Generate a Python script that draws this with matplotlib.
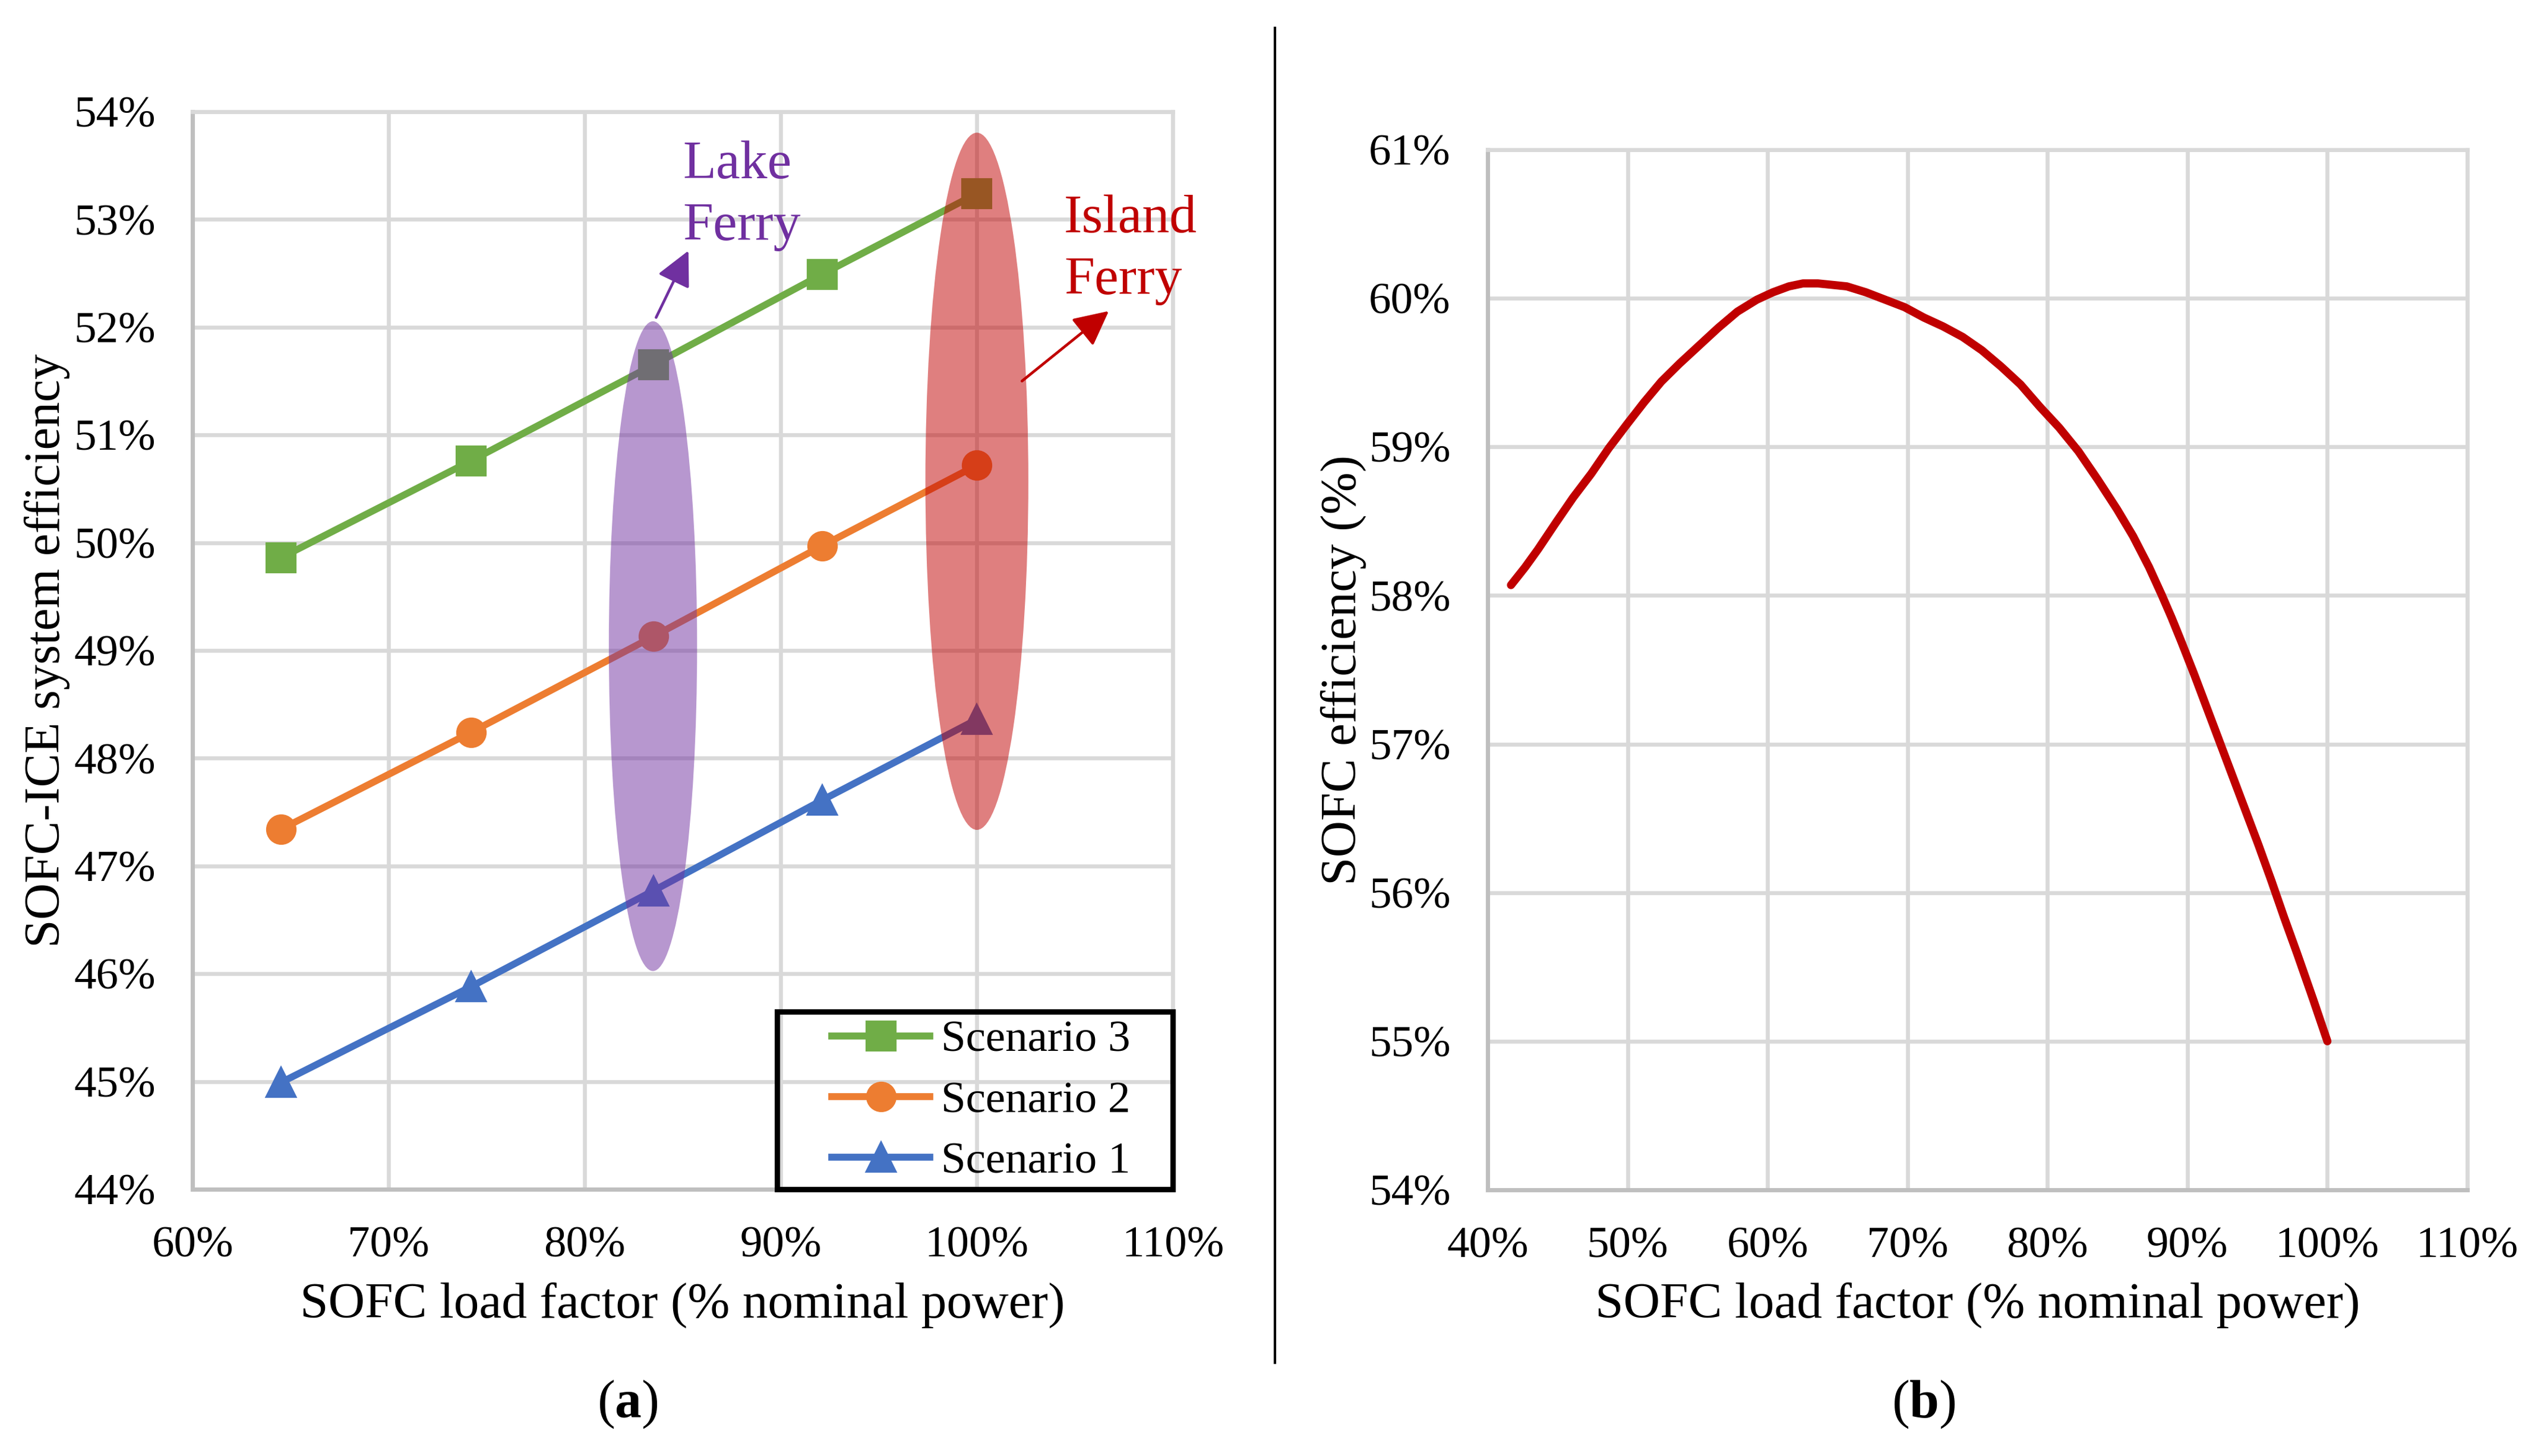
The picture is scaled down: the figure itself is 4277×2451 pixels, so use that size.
import matplotlib
matplotlib.use("Agg")
import matplotlib.pyplot as plt
from matplotlib.patches import Ellipse, Rectangle

plt.rcParams['font.family'] = ['Liberation Serif', 'DejaVu Serif']
plt.rcParams['mathtext.fontset'] = 'custom'
plt.rcParams['mathtext.rm'] = 'Liberation Serif'
plt.rcParams['mathtext.bf'] = 'Liberation Serif:bold'

# ---- data (a): SOFC-ICE system efficiency vs SOFC load factor, in %
load_a = [64.5, 74.2, 83.5, 92.1, 100.0]
scen3 = [49.86, 50.76, 51.65, 52.49, 53.24]
scen2 = [47.34, 48.24, 49.13, 49.97, 50.72]
scen1 = [44.99, 45.88, 46.77, 47.61, 48.36]
xticks_a = [60, 70, 80, 90, 100, 110]
yticks_a = [44, 45, 46, 47, 48, 49, 50, 51, 52, 53, 54]

# ---- data (b): SOFC efficiency curve, in %
load_b = [41.66, 42.67, 43.59, 44.87, 46.11, 47.40, 48.64, 49.93, 51.17, 52.41,
          53.70, 55.08, 56.46, 57.84, 59.22, 60.37, 61.52, 62.53, 63.59, 64.64,
          65.66, 67.03, 68.41, 69.79, 71.17, 72.55, 73.93, 75.31, 76.69, 78.07,
          79.45, 80.83, 82.21, 83.59, 84.97, 86.11, 87.26, 88.18, 88.87, 89.56,
          90.48, 91.40, 92.32, 93.24, 94.16, 95.08, 96.00, 96.92, 97.84, 98.99,
          100.0]
eff_b = [58.07, 58.19, 58.31, 58.49, 58.66, 58.82, 58.99, 59.15, 59.30, 59.44,
         59.56, 59.68, 59.80, 59.91, 59.99, 60.04, 60.08, 60.10, 60.10, 60.09,
         60.08, 60.04, 59.99, 59.94, 59.87, 59.81, 59.74, 59.65, 59.54, 59.42,
         59.27, 59.13, 58.97, 58.78, 58.58, 58.40, 58.19, 58.00, 57.85, 57.69,
         57.47, 57.24, 57.01, 56.78, 56.55, 56.32, 56.08, 55.83, 55.59, 55.28,
         55.00]
xticks_b = [40, 50, 60, 70, 80, 90, 100, 110]
yticks_b = [54, 55, 56, 57, 58, 59, 60, 61]

GREEN, ORANGE, BLUE = '#70AD47', '#ED7D31', '#4472C4'
PURPLE, RED = '#7030A0', '#C00000'
GRID = '#D9D9D9'
TICK_FS = 18
LABEL_FS = 20.5

fig = plt.figure(figsize=(4277 / 300, 2451 / 300), dpi=300)
ax1 = fig.add_axes([0.0758, 0.1832, 0.3858, 0.7401])
ax2 = fig.add_axes([0.5855, 0.1828, 0.3855, 0.7144])


def style_axes(ax, xt, yt):
    ax.set_xlim(xt[0], xt[-1])
    ax.set_ylim(yt[0], yt[-1])
    ax.set_xticks(xt)
    ax.set_yticks(yt)
    ax.set_xticklabels([f"{v}%" for v in xt], fontsize=TICK_FS)
    ax.set_yticklabels([f"{v}%" for v in yt], fontsize=TICK_FS)
    ax.tick_params(length=0, pad=15)
    ax.grid(True, color=GRID, lw=1.6)
    ax.set_axisbelow(True)
    for s in ['top', 'right']:
        ax.spines[s].set_color(GRID)
        ax.spines[s].set_linewidth(1.6)
    for s in ['left', 'bottom']:
        ax.spines[s].set_color('#BFBFBF')
        ax.spines[s].set_linewidth(1.7)


# ---------------- panel (a)
style_axes(ax1, xticks_a, yticks_a)
ms = 11.3
ax1.plot(load_a, scen3, color=GREEN, lw=2.8, marker='s', ms=ms, mec=GREEN, label='Scenario 3', zorder=3)
ax1.plot(load_a, scen2, color=ORANGE, lw=2.8, marker='o', ms=ms, mec=ORANGE, label='Scenario 2', zorder=3)
ax1.plot(load_a, scen1, color=BLUE, lw=2.8, marker='^', ms=ms, mec=BLUE, label='Scenario 1', zorder=3)

ax1.add_patch(Ellipse((83.48, 49.04), 4.5, 6.03, facecolor=PURPLE, edgecolor='none', alpha=0.5, zorder=4))
ax1.add_patch(Ellipse((100.0, 50.57), 5.25, 6.47, facecolor=RED, edgecolor='none', alpha=0.5, zorder=4))

ax1.annotate('', xy=(85.29, 52.71), xytext=(83.64, 52.09),
             arrowprops=dict(arrowstyle='-|>', color=PURPLE, lw=1.1, mutation_scale=30,
                             shrinkA=0, shrinkB=0), zorder=5)
ax1.annotate('', xy=(106.73, 52.15), xytext=(102.3, 51.5),
             arrowprops=dict(arrowstyle='-|>', color=RED, lw=1.1, mutation_scale=30,
                             shrinkA=0, shrinkB=0), zorder=5)
ax1.text(85.0, 53.38, 'Lake', color=PURPLE, fontsize=22, va='baseline', ha='left')
ax1.text(85.0, 52.81, 'Ferry', color=PURPLE, fontsize=22, va='baseline', ha='left')
ax1.text(104.43, 52.88, 'Island', color=RED, fontsize=22, va='baseline', ha='left', clip_on=False)
ax1.text(104.45, 52.31, 'Ferry', color=RED, fontsize=22, va='baseline', ha='left', clip_on=False)

ax1.legend(loc='center left', bbox_to_anchor=(0.652, 0.0816), frameon=False,
           fontsize=18, borderpad=0, borderaxespad=0, handlelength=2.2,
           handletextpad=0.25, labelspacing=0.45)
ax1.add_patch(Rectangle((0.596, 0.0), 0.404, 0.165, transform=ax1.transAxes, fill=False,
                        edgecolor='black', lw=2.2, clip_on=False, zorder=6))

ax1.set_xlabel('SOFC load factor (% nominal power)', fontsize=LABEL_FS, va='baseline')
ax1.xaxis.set_label_coords(0.5, -0.119)
ax1.set_ylabel('SOFC-ICE system efficiency', fontsize=LABEL_FS, va='baseline')
ax1.yaxis.set_label_coords(-0.1358, 0.5)

# ---------------- panel (b)
style_axes(ax2, xticks_b, yticks_b)
ax2.plot(load_b, eff_b, color=RED, lw=3.3, solid_joinstyle='round', solid_capstyle='round', zorder=3)
ax2.set_xlabel('SOFC load factor (% nominal power)', fontsize=LABEL_FS, va='baseline')
ax2.xaxis.set_label_coords(0.5, -0.1228)
ax2.set_ylabel('SOFC efficiency (%)', fontsize=LABEL_FS, va='baseline')
ax2.yaxis.set_label_coords(-0.1346, 0.5)

# separator and panel captions
fig.add_artist(plt.Line2D([0.5018, 0.5018], [0.064, 0.9808], color='black', lw=1.0))
fig.text(0.2469, 0.0265, r'($\mathbf{a}$)', fontsize=21.5, ha='center', va='baseline')
fig.text(0.7570, 0.0265, r'($\mathbf{b}$)', fontsize=21.5, ha='center', va='baseline')

fig.savefig('out.png', dpi=300)
